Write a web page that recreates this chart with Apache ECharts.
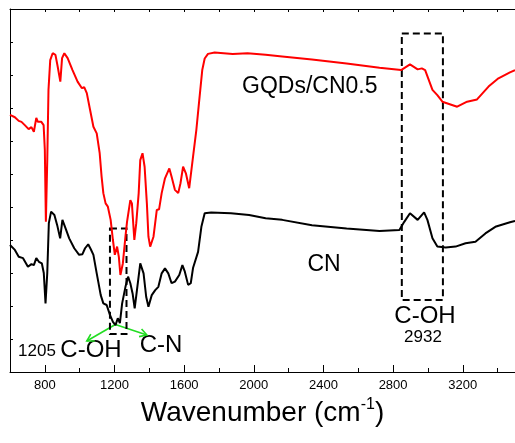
<!DOCTYPE html>
<html>
<head>
<meta charset="utf-8">
<script src="https://cdn.jsdelivr.net/npm/echarts@6/dist/echarts.min.js"></script>
<style>
html, body { margin: 0; padding: 0; background: #fff; }
#chart-container { width: 515px; height: 443px; }
</style>
</head>
<body>
<div id="chart-container"></div>
<script>
// spectra (arbitrary transmittance units, 0-110)
const redWavenumber = [600, 628, 650, 666, 685, 707, 723, 737, 751, 760, 780, 793, 800, 806, 814, 821, 831, 845, 861, 874,
    889, 899, 912, 931, 959, 988, 1013, 1026, 1041, 1060, 1079, 1098, 1115, 1126, 1136, 1149, 1162, 1178, 1191, 1202,
    1215, 1225, 1234, 1248, 1263, 1272, 1291, 1300, 1314, 1325, 1339, 1348, 1361, 1373, 1386, 1395, 1405, 1424, 1443, 1456,
    1471, 1490, 1515, 1528, 1547, 1566, 1579, 1594, 1610, 1629, 1651, 1670, 1685, 1704, 1718, 1737, 1775, 1879, 1964, 2068,
    2163, 2334, 2533, 2722, 2846, 2897, 2941, 2965, 2984, 3026, 3054, 3083, 3168, 3225, 3282, 3348, 3405, 3471, 3500]
const redSignal = [77.9, 77.2, 76.1, 75.8, 74.8, 73.6, 74.2, 72.8, 77.0, 75.8, 75.8, 74.8, 67.3, 45.5, 64.2, 85.5, 94.5, 96.6, 96.1, 92.5,
    88.0, 95.1, 96.6, 95.1, 91.5, 88.0, 86.0, 86.3, 84.5, 79.4, 74.3, 72.3, 66.3, 59.2, 54.2, 51.1, 50.1, 46.1, 40.0, 35.5,
    38.0, 34.9, 29.4, 32.9, 41.0, 45.5, 52.1, 51.1, 40.0, 45.1, 54.2, 64.2, 66.3, 62.2, 51.1, 41.0, 38.0, 41.0, 49.1, 49.3,
    54.2, 58.7, 61.7, 59.2, 55.2, 54.2, 57.2, 62.2, 60.2, 55.7, 65.2, 73.3, 81.4, 91.5, 95.0, 96.4, 96.8, 96.4, 96.6, 96.1,
    95.6, 94.7, 93.5, 92.2, 91.5, 93.2, 91.7, 92.0, 91.5, 85.5, 83.9, 81.9, 80.4, 81.9, 82.6, 86.5, 89.0, 90.8, 91.5]

const blackWavenumber = [600, 628, 650, 675, 703, 723, 737, 751, 766, 783, 794, 804, 814, 823, 836, 855, 871, 888, 901, 916,
    940, 969, 997, 1016, 1031, 1049, 1064, 1079, 1098, 1121, 1136, 1155, 1174, 1191, 1206, 1219, 1231, 1244, 1263, 1278,
    1291, 1304, 1316, 1329, 1348, 1367, 1382, 1395, 1414, 1434, 1452, 1471, 1490, 1509, 1528, 1547, 1572, 1590, 1604, 1623,
    1638, 1651, 1680, 1699, 1718, 1755, 1869, 1973, 2068, 2163, 2334, 2533, 2722, 2836, 2864, 2897, 2941, 2978, 2997, 3026,
    3054, 3102, 3159, 3216, 3273, 3330, 3387, 3471, 3500]
const blackSignal = [38.5, 37.0, 34.9, 34.5, 31.9, 32.7, 32.4, 34.5, 33.4, 32.9, 30.0, 20.8, 30.0, 45.1, 48.6, 47.6, 44.5, 40.5, 46.1, 44.0,
    40.5, 37.5, 35.5, 35.7, 37.5, 38.7, 37.2, 35.5, 29.9, 23.3, 20.8, 20.3, 17.3, 15.2, 14.2, 16.3, 14.8, 20.8, 25.8, 28.9,
    26.9, 23.8, 19.3, 24.8, 32.9, 29.9, 22.8, 19.8, 23.3, 24.8, 25.8, 29.9, 31.4, 29.9, 26.9, 27.4, 29.4, 32.4, 30.4, 26.4,
    26.9, 31.5, 36.4, 44.0, 48.1, 48.3, 48.1, 47.6, 46.6, 46.1, 44.5, 43.5, 42.7, 43.0, 45.5, 48.1, 46.1, 48.4, 46.1, 40.5,
    38.0, 37.7, 38.0, 39.0, 39.5, 42.0, 44.0, 45.4, 45.8]

const xTickLabels = [800, 1200, 1600, 2000, 2400, 2800, 3200]
const seriesNames = ['GQDs/CN0.5', 'CN']

// dashed boxes and arrows, in data coordinates
const boxOH2932 = [[2850, 102.6], [3086, 21.8]]
const box1205 = [[1174, 43.5], [1269, 11.5]]
const arrowFrom = [1205, 14.4]
const arrowTo = [[1041, 9.4], [1386, 11.2]]

const font = 'Liberation Sans, Arial, sans-serif'
const zip = (xs, ys) => xs.map((x, i) => [x, ys[i]])

const myChart = echarts.init(document.getElementById('chart-container'))

const dashedBox = (b) => [{ coord: b[0] }, { coord: b[1] }]

const option = {
    animation: false,
    backgroundColor: '#fff',
    grid: { left: 10, top: 9, width: 510, height: 363 },
    xAxis: [
        {
            type: 'value', position: 'bottom', min: 600, max: 3500, interval: 200,
            axisLine: { lineStyle: { color: '#000', width: 1 } },
            axisTick: { inside: true, length: 4, lineStyle: { color: '#000' } },
            axisLabel: {
                customValues: xTickLabels, color: '#000', fontSize: 13, fontFamily: font, margin: 7,
                formatter: (v) => String(v)
            },
            splitLine: { show: false },
            name: '{a|Wavenumber (cm}{s|-1}{a|)}',
            nameLocation: 'middle',
            nameGap: 22,
            nameTextStyle: {
                rich: {
                    a: { fontSize: 28, fontFamily: font, color: '#000', lineHeight: 32 },
                    s: { fontSize: 16, fontFamily: font, color: '#000', lineHeight: 16, verticalAlign: 'top' }
                }
            }
        },
        {
            type: 'value', position: 'bottom', min: 600, max: 3500,
            axisLine: { show: false },
            axisTick: { inside: true, length: 7, customValues: xTickLabels, lineStyle: { color: '#000' } },
            axisLabel: { show: false },
            splitLine: { show: false }
        },
        {
            type: 'value', position: 'top', min: 600, max: 3500, interval: 200,
            axisLine: { lineStyle: { color: '#000', width: 1 } },
            axisTick: { inside: true, length: 3, lineStyle: { color: '#000' } },
            axisLabel: { show: false },
            splitLine: { show: false }
        }
    ],
    yAxis: {
        type: 'value', min: 0, max: 110, interval: 10,
        axisLine: { show: true, lineStyle: { color: '#000', width: 1 } },
        axisTick: { show: true, inside: true, length: 3, lineStyle: { color: '#000' } },
        axisLabel: { show: false },
        splitLine: { show: false }
    },
    series: [
        {
            name: seriesNames[0], type: 'line', symbol: 'none',
            data: zip(redWavenumber, redSignal),
            lineStyle: { color: '#ff0000', width: 2 },
            markArea: {
                silent: true,
                itemStyle: { color: 'rgba(0,0,0,0)', borderColor: '#000', borderWidth: 2, borderType: [7, 4] },
                data: [dashedBox(boxOH2932), dashedBox(box1205)]
            }
        },
        {
            name: seriesNames[1], type: 'line', symbol: 'none',
            data: zip(blackWavenumber, blackSignal),
            lineStyle: { color: '#000', width: 2 }
        }
    ]
}

option && myChart.setOption(option)

// annotations
const txt = (text, x, y, size, align) => ({
    type: 'text', x: x, y: y, silent: true,
    style: { text: text, fontSize: size, fontFamily: font, fill: '#000', align: align || 'center', verticalAlign: 'middle' }
})

const green = '#22dd22'
const p0 = myChart.convertToPixel({ gridIndex: 0 }, arrowFrom)
const arrows = arrowTo.map((t) => {
    const p1 = myChart.convertToPixel({ gridIndex: 0 }, t)
    const ang = Math.atan2(p0[1] - p1[1], p0[0] - p1[0])
    const h = 8
    const a1 = [p1[0] + h * Math.cos(ang + Math.PI / 6), p1[1] + h * Math.sin(ang + Math.PI / 6)]
    const a2 = [p1[0] + h * Math.cos(ang - Math.PI / 6), p1[1] + h * Math.sin(ang - Math.PI / 6)]
    return [
        { type: 'line', silent: true, shape: { x1: p0[0], y1: p0[1], x2: p1[0], y2: p1[1] }, style: { stroke: green, lineWidth: 1.6 } },
        { type: 'polyline', silent: true, shape: { points: [a1, p1, a2] }, style: { stroke: green, lineWidth: 1.6, fill: null } }
    ]
}).flat()

myChart.setOption({
    graphic: [
        txt('GQDs/CN0.5', 242, 87, 23, 'left'),
        txt('CN', 324, 265, 23),
        txt('C-OH', 425, 316, 24),
        txt('2932', 423, 337, 17),
        txt('1205', 37, 351, 17),
        txt('C-OH', 91, 350, 24),
        txt('C-N', 161, 345, 24)
    ].concat(arrows)
})
</script>
</body>
</html>
